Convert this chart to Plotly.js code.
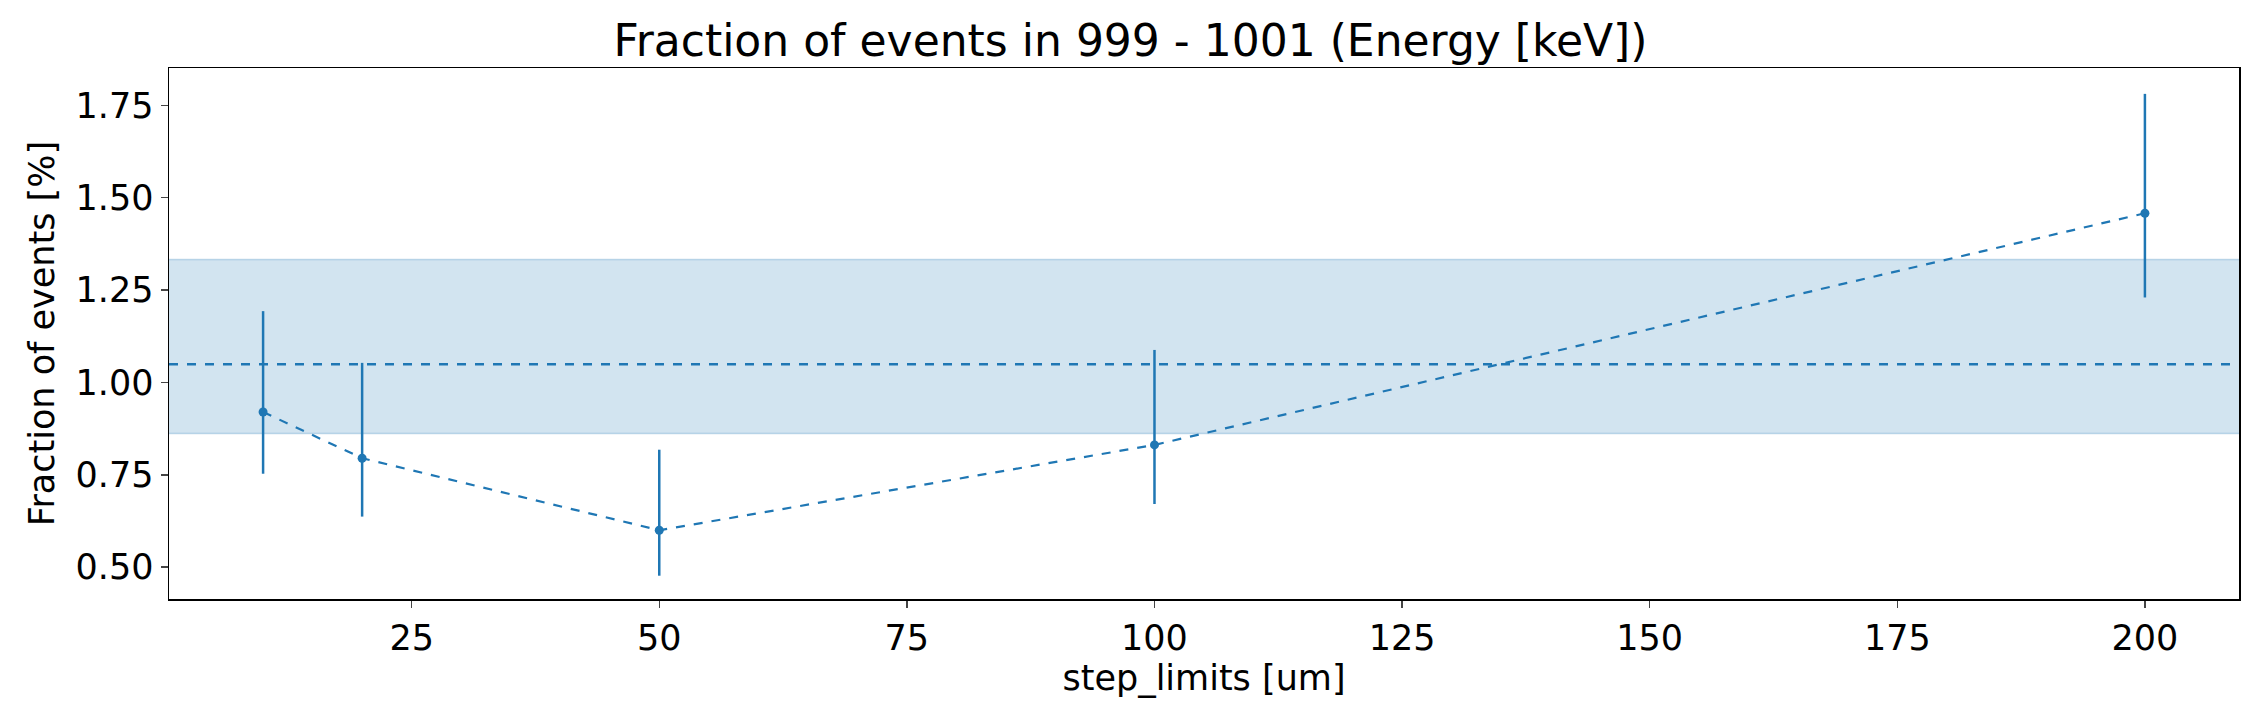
<!DOCTYPE html>
<html><head><meta charset="utf-8">
<script src="https://cdn.plot.ly/plotly-3.0.1.min.js"></script>
<style>body{margin:0}</style></head><body>
<div id="c" style="width:2261px;height:725px"></div>
<script>
const stepLimits = [10, 20, 50, 100, 200];
const fraction = [0.92, 0.795, 0.60, 0.831, 1.458];
const errUp = [0.273, 0.258, 0.218, 0.257, 0.323];
const errDown = [0.167, 0.158, 0.123, 0.160, 0.228];
const meanVal = 1.049;
const bandLow = 0.862;
const bandHigh = 1.333;
const xRange = [0.5, 209.5];
const col = '#1f77b4';
const data = [
 {x: xRange, y: [bandHigh, bandHigh], mode:'lines', line:{color:'rgba(31,119,180,0.25)', width:1.5}, showlegend:false, hoverinfo:'skip'},
 {x: xRange, y: [bandLow, bandLow], mode:'lines', fill:'tonexty', fillcolor:'rgba(31,119,180,0.2)', line:{color:'rgba(31,119,180,0.25)', width:1.5}, showlegend:false, hoverinfo:'skip'},
 {x: xRange, y: [meanVal, meanVal], mode:'lines', line:{color:col, width:2.5, dash:'dash'}, showlegend:false},
 {x: stepLimits, y: fraction, mode:'lines+markers', line:{color:col, width:2.2, dash:'dash'}, marker:{color:col, size:9},
  error_y:{type:'data', symmetric:false, array:errUp, arrayminus:errDown, color:col, thickness:2.5, width:0}, showlegend:false}
];
const layout = {
 width:2261, height:725, margin:{l:169, r:22, t:68, b:126},
 paper_bgcolor:'white', plot_bgcolor:'white',
 font:{family:'DejaVu Sans', color:'black'},
 title:{text:'Fraction of events in 999 - 1001 (Energy [keV])', font:{size:44}, x:0.5, xanchor:'center', y:0.965},
 xaxis:{range:xRange, tickvals:[25,50,75,100,125,150,175,200], ticks:'outside', ticklen:7, tickwidth:1.5,
   showgrid:false, zeroline:false, showline:true, mirror:true, linecolor:'black', linewidth:1.5,
   tickfont:{size:35}, title:{text:'step_limits [um]', font:{size:35}, standoff:8}},
 yaxis:{range:[0.414, 1.851], tickvals:[0.5,0.75,1.0,1.25,1.5,1.75], ticktext:['0.50','0.75','1.00','1.25','1.50','1.75'],
   ticks:'outside', ticklen:7, tickwidth:1.5, showgrid:false, zeroline:false, showline:true, mirror:true, linecolor:'black', linewidth:1.5,
   tickfont:{size:35}, title:{text:'Fraction of events [%]', font:{size:35}, standoff:10}}
};
Plotly.newPlot('c', data, layout, {staticPlot:true});
</script></body></html>
